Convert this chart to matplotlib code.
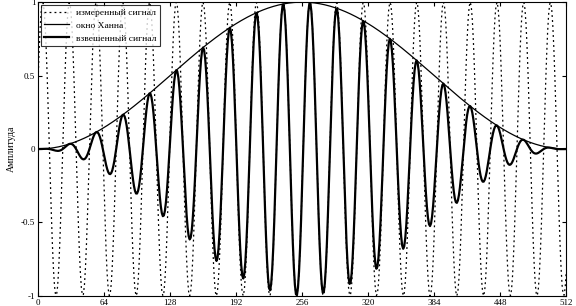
import numpy as np
import matplotlib.pyplot as plt

plt.rcParams['font.family'] = ['Liberation Serif', 'DejaVu Serif']

# signal parameters
n_samples = 512
period = 25.9          # samples per cycle
first_trough = 17.5    # sample index of first minimum
x_ticks = [0, 64, 128, 192, 256, 320, 384, 448, 512]
y_ticks = [-1, -0.5, 0, 0.5, 1]
y_tick_labels = ["-1", "-0.5", "0", "0.5", "1"]
labels = ["измеренный сигнал", "окно Ханна", "взвешенный сигнал"]

n = np.arange(0, n_samples + 1)
signal = -np.cos(2 * np.pi * (n - first_trough) / period)
window = 0.5 * (1 - np.cos(2 * np.pi * n / n_samples))
weighted = signal * window

fig = plt.figure(figsize=(5.76, 3.06), dpi=100)
ax = fig.add_axes([0.066, 0.033, 0.917, 0.96])

ax.plot(n, signal, color="black", linestyle=(0, (1.5, 2.5)), linewidth=0.9, label=labels[0])
ax.plot(n, window, color="black", linewidth=0.9, label=labels[1])
ax.plot(n, weighted, color="black", linewidth=1.6, label=labels[2])

ax.set_xlim(0, 512)
ax.set_ylim(-1, 1)
ax.set_xticks(x_ticks)
ax.set_yticks(y_ticks)
ax.set_yticklabels(y_tick_labels)
ax.tick_params(direction="in", labelsize=6.5, length=3, pad=2, top=True, right=True)
ax.set_ylabel("Амплитуда", fontsize=7, labelpad=4)

leg = ax.legend(loc="upper left", fontsize=6.8, frameon=True, fancybox=False,
                borderaxespad=0.3, handlelength=2.6, labelspacing=0.45, borderpad=0.35)
leg.get_frame().set_edgecolor("black")
leg.get_frame().set_linewidth(0.8)

fig.savefig("out.png", dpi=100)
